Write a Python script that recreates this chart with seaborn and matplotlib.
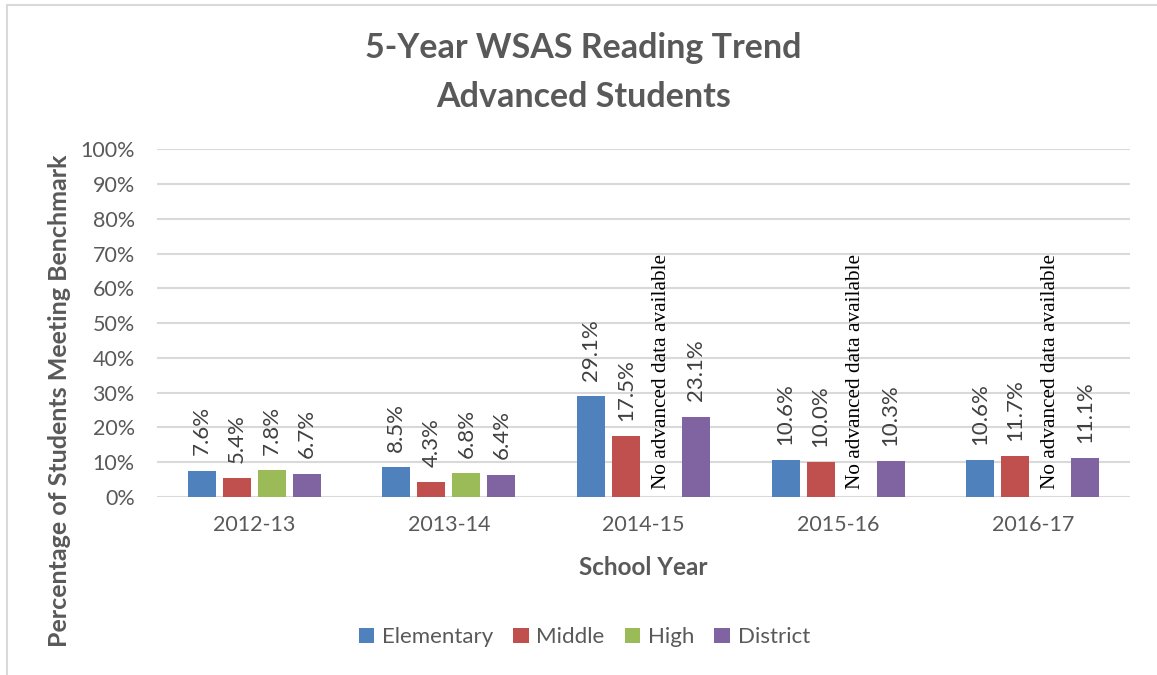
import numpy as np
import pandas as pd
import matplotlib
matplotlib.use("Agg")
import matplotlib.pyplot as plt
import seaborn as sns
from matplotlib.patches import Rectangle

# --- data ---
years = ["2012-13", "2013-14", "2014-15", "2015-16", "2016-17"]
levels = ["Elementary", "Middle", "High", "District"]
elementary = [7.6, 8.5, 29.1, 10.6, 10.6]
middle = [5.4, 4.3, 17.5, 10.0, 11.7]
high = [7.8, 6.8, np.nan, np.nan, np.nan]   # no advanced data after 2013-14
district = [6.7, 6.4, 23.1, 10.3, 11.1]
colors = ["#4F81BD", "#C0504D", "#9BBB59", "#8064A2"]
missing_note = "No advanced data available"

df = pd.DataFrame({"Elementary": elementary, "Middle": middle,
                   "High": high, "District": district}, index=years)
long = df.reset_index(names="year").melt(id_vars="year", var_name="level", value_name="pct")
long["pct"] = long["pct"] / 100
long = long.dropna()

sns.set_theme(style="white")
plt.rcParams["font.family"] = ["Lato", "DejaVu Sans"]
GREY = "#595959"

fig = plt.figure(figsize=(11.57, 6.75), dpi=100)
ax = fig.add_axes([0.1357, 0.2637, 0.841, 0.5153])

sns.barplot(data=long, x="year", y="pct", hue="level", order=years, hue_order=levels,
            palette=colors, width=0.72, gap=0.2, errorbar=None, ax=ax, legend=True,
            edgecolor="none", saturation=1)

ax.set_ylim(0, 1)
ax.set_yticks(np.arange(0, 1.01, 0.1))
ax.set_yticklabels([f"{int(round(t * 100))}%" for t in ax.get_yticks()])
ax.yaxis.grid(True, color="#D9D9D9", linewidth=1.5)
ax.set_axisbelow(True)
for s in ax.spines.values():
    s.set_visible(False)
ax.tick_params(axis="both", length=0, labelsize=15.5, labelcolor=GREY)
ax.tick_params(axis="y", pad=16)
ax.tick_params(axis="x", pad=13)
ax.set_xlim(-0.5, len(years) - 0.5)

# value labels above each bar
for cont in ax.containers:
    for bar in cont:
        h = bar.get_height()
        if np.isnan(h):
            continue
        ax.annotate(f"{h * 100:.1f}%", (bar.get_x() + bar.get_width() / 2, h),
                    xytext=(0, 11), textcoords="offset points", rotation=90,
                    ha="center", va="bottom", fontsize=16, color="#404040")

# note in the empty "High" slot (halfway between Middle and District bars)
mid_bars = ax.containers[levels.index("Middle")]
dis_bars = ax.containers[levels.index("District")]
for i, yr in enumerate(years):
    if np.isnan(df.loc[yr, "High"]):
        xm = mid_bars[i].get_x() + mid_bars[i].get_width() / 2
        xd = dis_bars[i].get_x() + dis_bars[i].get_width() / 2
        ax.annotate(missing_note, ((xm + xd) / 2, 0), xytext=(0, 6),
                    textcoords="offset points", rotation=90, ha="center", va="bottom",
                    fontsize=15.3, color="black", family="Liberation Serif")

ax.set_xlabel("School Year", fontsize=17.5, fontweight="bold", color=GREY, labelpad=15)
ax.set_ylabel("")
fig.text(60 / 1157, 0.407, "Percentage of Students Meeting Benchmark", rotation=90,
         ha="center", va="center", fontsize=18, fontweight="bold", color=GREY)

fig.text(0.504, 0.893, "5-Year WSAS Reading Trend\nAdvanced Students", ha="center",
         va="center", fontsize=24.5, fontweight="bold", color=GREY, linespacing=1.65)

handles, labels = ax.get_legend_handles_labels()
ax.legend_.remove()
fig.legend(handles, labels, loc="center", bbox_to_anchor=(0.505, 0.056), ncol=4,
           frameon=False, fontsize=16, handlelength=0.7, handleheight=0.7,
           handletextpad=0.35, columnspacing=0.9, labelcolor=GREY)

# light frame round the chart area (cropped at right/bottom as in the reference)
fig.patches.append(Rectangle((0.006, -0.1), 1.2, 1.093, transform=fig.transFigure,
                             fill=False, edgecolor="#D9D9D9", linewidth=1.5))

fig.savefig("out.png", dpi=100)
